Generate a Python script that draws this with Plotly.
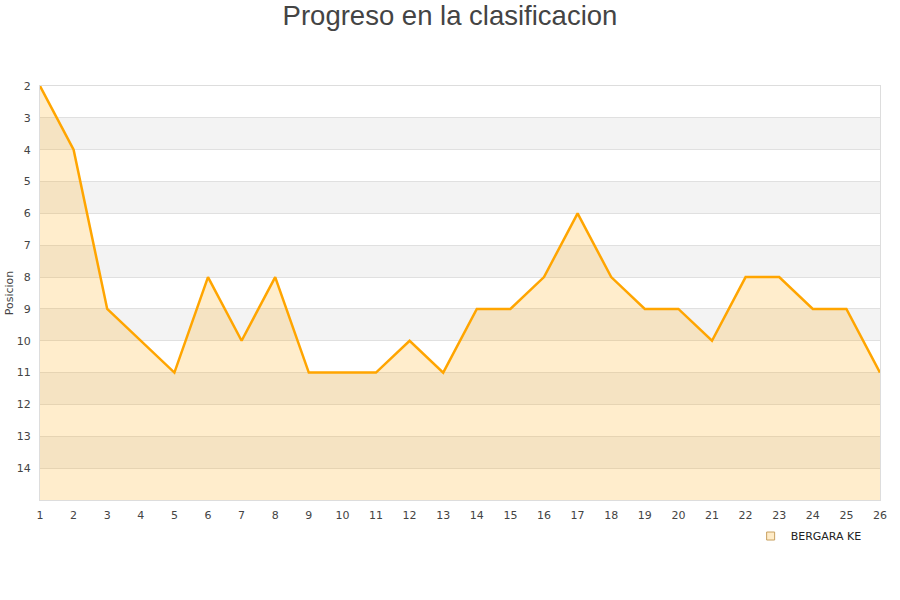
import plotly.graph_objects as go

jornadas = list(range(1, 27))
posiciones = [2, 4, 9, 10, 11, 8, 10, 8, 11, 11, 11, 10, 11, 9, 9, 8, 6, 8, 9, 9, 10, 8, 8, 9, 9, 11]
equipo = "BERGARA KE"
y_ticks = list(range(2, 15))
y_bottom = 15

fig = go.Figure()

# alternating bands
shapes = []
for k in range(2, 15):
    color = "#f3f3f3" if k % 2 == 1 else "#ffffff"
    shapes.append(dict(type="rect", xref="paper", yref="y", x0=0, x1=1, y0=k, y1=k + 1,
                       fillcolor=color, line=dict(width=0), layer="below"))

fig.add_trace(go.Scatter(x=jornadas, y=[y_bottom] * len(jornadas), mode="lines",
                         line=dict(width=0), showlegend=False, hoverinfo="skip"))
fig.add_trace(go.Scatter(x=jornadas, y=posiciones, mode="lines", fill="tonexty",
                         fillcolor="rgba(255,165,0,0.2)",
                         line=dict(color="#ffa500", width=2.5), showlegend=False, name=equipo))
fig.add_trace(go.Scatter(x=[None], y=[None], mode="markers", name=equipo,
                         marker=dict(symbol="square", size=8, color="#ffecc8",
                                     line=dict(color="#c8a060", width=1))))

fig.update_layout(
    width=900, height=600,
    margin=dict(l=40, r=20, t=86, b=100, autoexpand=False),
    paper_bgcolor="white", plot_bgcolor="white",
    title=dict(text="Progreso en la clasificacion", x=0.5, xanchor="center",
               yref="container", y=0.975, yanchor="middle",
               font=dict(family="Liberation Sans, Arial", size=27.5, color="#444444")),
    font=dict(family="DejaVu Sans", size=11, color="#555555"),
    shapes=shapes,
    xaxis=dict(range=[1, 26], tickmode="array", tickvals=jornadas, showgrid=False, zeroline=False,
               automargin=False, ticklabelstandoff=5,
               showline=True, linecolor="#dddddd", mirror=True, ticks="", tickfont=dict(size=11, color="#444")),
    yaxis=dict(range=[15, 2], tickmode="array", tickvals=y_ticks, showgrid=True, gridcolor="#e0e0e0",
               automargin=False, ticklabelstandoff=6,
               zeroline=False, showline=True, linecolor="#dddddd", mirror=True, ticks="",
               title=dict(text="Posicion", font=dict(size=11, color="#444"), standoff=0),
               tickfont=dict(size=11, color="#444")),
    legend=dict(x=0.846, y=-0.087, xanchor="left", yanchor="middle", bgcolor="rgba(0,0,0,0)",
                font=dict(size=11, color="#222")),
    showlegend=True,
)

fig.write_html("out.html", config={"displayModeBar": False},
               post_script="document.body.style.margin='0';")
